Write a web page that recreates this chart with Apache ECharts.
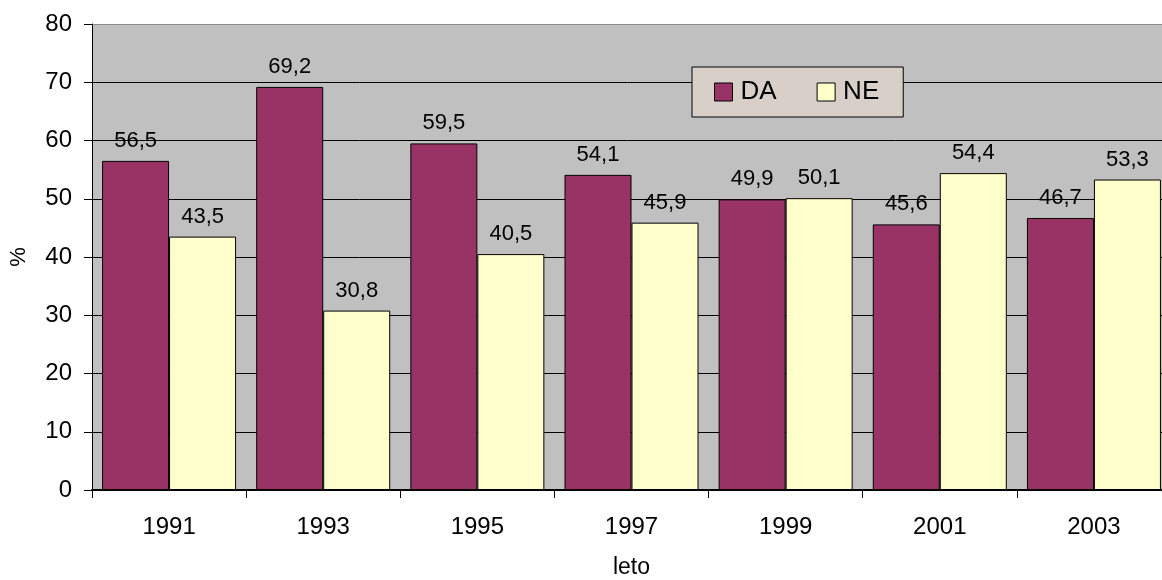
<!DOCTYPE html>
<html>
<head>
<meta charset="utf-8">
<script src="https://cdn.jsdelivr.net/npm/echarts@6/dist/echarts.min.js"></script>
<style>
  html, body { margin: 0; padding: 0; background: #fff; }
  #chart { width: 1162px; height: 580px; }
</style>
</head>
<body>
<div id="chart"></div>
<script>
const years = ['1991', '1993', '1995', '1997', '1999', '2001', '2003']
const da = [56.5, 69.2, 59.5, 54.1, 49.9, 45.6, 46.7]
const ne = [43.5, 30.8, 40.5, 45.9, 50.1, 54.4, 53.3]

const chart = echarts.init(document.getElementById('chart'))
const font = 'Liberation Sans, Arial, sans-serif'

const label = {
  show: true,
  position: 'top',
  distance: 9,
  color: '#000',
  fontFamily: font,
  fontSize: 22,
  formatter: p => String(p.value).replace('.', ',')
}

chart.setOption({
  animation: false,
  grid: {
    left: 92,
    top: 24,
    width: 1079,
    height: 466,
    outerBoundsMode: 'none',
    show: true,
    backgroundColor: '#C0C0C0',
    borderWidth: 0
  },
  legend: {
    left: 692,
    top: 67,
    padding: [12, 24, 12, 22],
    backgroundColor: '#D8D0C8',
    borderColor: '#000',
    borderWidth: 1,
    icon: 'rect',
    itemWidth: 18,
    itemHeight: 18,
    itemGap: 40,
    itemStyle: { borderColor: '#000', borderWidth: 1 },
    textStyle: { fontFamily: font, fontSize: 26, color: '#000', padding: [0, 0, 0, 3] },
    data: ['DA', 'NE']
  },
  xAxis: {
    type: 'category',
    data: years,
    name: 'leto',
    nameLocation: 'middle',
    nameGap: 66,
    nameTextStyle: { fontFamily: font, fontSize: 23, color: '#000' },
    axisLine: { lineStyle: { color: '#000', width: 2 } },
    axisTick: { show: true, length: 8, lineStyle: { color: '#000' } },
    axisLabel: { color: '#000', fontFamily: font, fontSize: 24, margin: 25 }
  },
  yAxis: {
    type: 'value',
    min: 0,
    max: 80,
    interval: 10,
    name: '%',
    nameLocation: 'middle',
    nameRotate: 90,
    nameGap: 62,
    nameTextStyle: { fontFamily: font, fontSize: 22, color: '#000' },
    axisLine: { show: true, lineStyle: { color: '#000', width: 1 } },
    axisTick: { show: true, length: 8, lineStyle: { color: '#000' } },
    axisLabel: { color: '#000', fontFamily: font, fontSize: 24, margin: 20 },
    splitLine: {
      show: true,
      lineStyle: { color: ['#000', '#000', '#000', '#000', '#000', '#000', '#000', '#000', '#8a8a8a'], width: 1 }
    }
  },
  series: [
    {
      name: 'DA',
      type: 'bar',
      data: da,
      barWidth: 67,
      barGap: '0%',
      itemStyle: { color: '#993366', borderColor: '#000', borderWidth: 1 },
      label
    },
    {
      name: 'NE',
      type: 'bar',
      data: ne,
      barWidth: 67,
      barGap: '0%',
      itemStyle: { color: '#FFFFCC', borderColor: '#000', borderWidth: 1 },
      label
    }
  ]
})
</script>
</body>
</html>
